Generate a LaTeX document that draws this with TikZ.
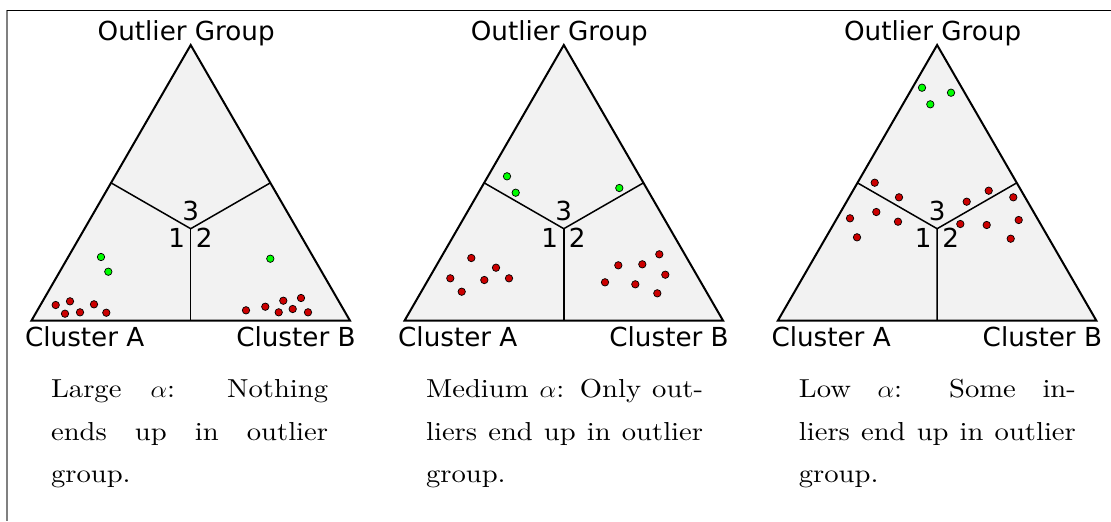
\documentclass[tikz,border=0pt]{standalone}
\usepackage{fontspec}
\usepackage{graphicx}
\usetikzlibrary{calc}
\newfontfamily\dejavu{DejaVu Sans}
\newfontfamily\capfont{lmroman10-regular}[Extension=.otf]
\definecolor{trifill}{HTML}{F2F2F2}
\definecolor{dotred}{HTML}{CC0000}
\definecolor{dotgreen}{HTML}{00FF00}
\tikzset{
  tri/.style={draw=black, line width=1pt, fill=trifill, line join=miter},
  divider/.style={draw=black, line width=0.75pt},
  lbl/.style={font=\dejavu\fontsize{13.1}{15}\selectfont, inner sep=0pt},
  capline/.style={font=\capfont\fontsize{13}{15}\selectfont, inner sep=0pt, anchor=base west},
  reddot/.style={draw=black, line width=0.35pt, fill=dotred},
  greendot/.style={draw=black, line width=0.35pt, fill=dotgreen},
}
\newcommand{\capj}[1]{\scalebox{1.1}[1]{\makebox[125.9pt][s]{#1}}}
\newcommand{\capr}[1]{\scalebox{1.1}[1]{#1}}
\begin{document}
\begin{tikzpicture}[x=0.5pt, y=-0.5pt]
\useasboundingbox (0,0) rectangle (1111,521);
% frame
\draw[gray, line width=1pt] (7,10) -- (7,521);
\draw[black, line width=0.5pt] (6.5,10) -- (1111,10);
% panels
\foreach \i/\xc in {1/190.7, 2/563.8, 3/937.1}{
  \coordinate (apex\i) at (\xc,45);
  \coordinate (bl\i) at (\xc-159.3,320.7);
  \coordinate (br\i) at (\xc+159.3,320.7);
  \coordinate (cen\i) at (\xc,228.7);
  \coordinate (ml\i) at ($(apex\i)!0.5!(bl\i)$);
  \coordinate (mr\i) at ($(apex\i)!0.5!(br\i)$);
  \coordinate (mb\i) at ($(bl\i)!0.5!(br\i)$);
  \path[tri] (apex\i) -- (bl\i) -- (br\i) -- cycle;
  \draw[divider] (ml\i) -- (cen\i) -- (mr\i);
  \draw[divider] (cen\i) -- (mb\i);
  \node[lbl, anchor=base] (og\i) at (\xc-4.5,40) {Outlier Group};
  \node[lbl, anchor=base west] (ca\i) at (\xc-166,346.7) {Cluster A};
  \node[lbl, anchor=base east] (cb\i) at (\xc+165.3,346.7) {Cluster B};
  \node[lbl, anchor=base] (n3\i) at (\xc,220) {3};
  \node[lbl, anchor=base] (n1\i) at (\xc-14,247.3) {1};
  \node[lbl, anchor=base] (n2\i) at (\xc+13.5,247.3) {2};
}
% captions
\node[capline] (c1a) at (50.7,397.7) {\capj{Large $\alpha$: Nothing}};
\node[capline] (c1b) at (50.7,440) {\capj{ends up in outlier}};
\node[capline] (c1c) at (50.7,482.3) {\capr{group.}};
\node[capline] (c2a) at (425.7,397.7) {\capj{Medium $\alpha$: Only out-}};
\node[capline] (c2b) at (425.7,440) {\capj{liers end up in outlier}};
\node[capline] (c2c) at (425.7,482.3) {\capr{group.}};
\node[capline] (c3a) at (798.5,397.7) {\capj{Low $\alpha$: Some in-}};
\node[capline] (c3b) at (798.5,440) {\capj{liers end up in outlier}};
\node[capline] (c3c) at (798.5,482.3) {\capr{group.}};
% dots panel 1
\foreach \p in {(101,257),(108.3,271.7),(270.3,258.7)}
  \path[greendot] \p circle[radius=1.85pt];
\foreach \p in {(55.7,305),(70,301.3),(65,313.7),(80,312.3),(94,304.3),(106.3,312.7),
  (246,310.3),(265.3,306.7),(283.3,300.7),(278.7,312.3),(292.7,309),(301,298),(308,312.3)}
  \path[reddot] \p circle[radius=1.85pt];
% dots panel 2
\foreach \p in {(507,176.3),(515.7,192.7),(619.3,188)}
  \path[greendot] \p circle[radius=1.85pt];
\foreach \p in {(471.3,258),(450.3,278.3),(461.7,291.7),(484.3,280),(496,267.7),(509,278.3),
  (618.3,265.3),(605,282.3),(635.3,284.3),(642.3,264.3),(659.3,254.3),(665.3,274.7),(657.3,293.3)}
  \path[reddot] \p circle[radius=1.85pt];
% dots panel 3
\foreach \p in {(922,87.7),(930.3,104.3),(951,92.7)}
  \path[greendot] \p circle[radius=1.85pt];
\foreach \p in {(874.7,182.7),(899,197.3),(876.3,212),(850,218.3),(898,221.7),(857,237.3),
  (988.7,190.7),(966.7,201.7),(1013.3,197.3),(960.3,224),(986.7,225),(1018.7,220),(1010.7,238.7)}
  \path[reddot] \p circle[radius=1.85pt];
\end{tikzpicture}
\end{document}
